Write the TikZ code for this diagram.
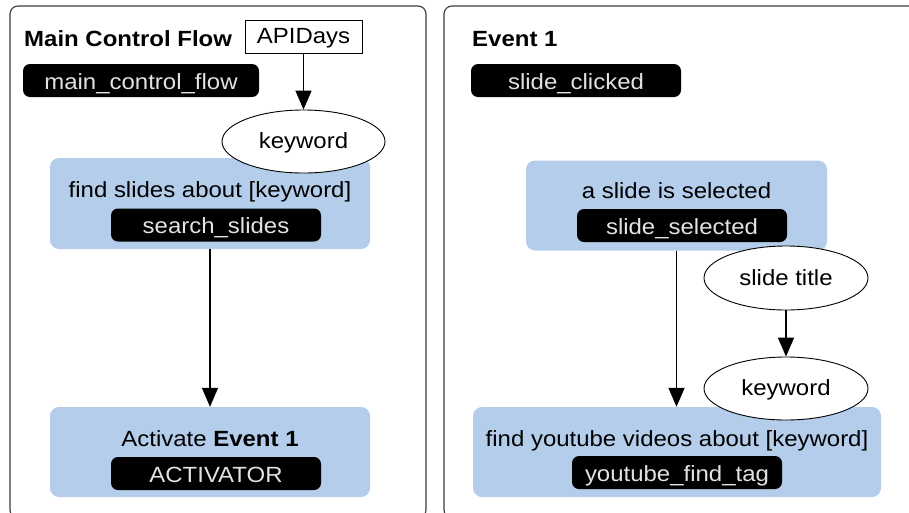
\documentclass[tikz,border=0pt]{standalone}
\usepackage{fontspec}
\setmainfont{Liberation Sans}[FakeStretch=1.09]
\usetikzlibrary{arrows.meta,shapes.geometric}
\definecolor{boxblue}{HTML}{B3CDEA}
\definecolor{pilltext}{HTML}{E2E2E2}
\definecolor{panelgray}{HTML}{3A3A3A}
\tikzset{
  fs/.style={font=\fontsize{22}{26}\selectfont},
  panel/.style={draw=panelgray,line width=1.1pt,rounded corners=8pt},
  actbox/.style={fill=boxblue,rounded corners=9pt,inner sep=0pt},
  pill/.style={fill=black,text=pilltext,rounded corners=7pt,inner sep=0pt,minimum height=33pt,text height=17pt,text depth=0pt,fs},
  lbl/.style={inner sep=0pt,anchor=base,fs},
  ttl/.style={inner sep=0pt,anchor=base west,font=\fontsize{22}{26}\selectfont\bfseries},
  oval/.style={ellipse,draw=black,fill=white,line width=0.9pt,inner sep=0pt,text height=15pt,text depth=1pt,fs},
  flow/.style={line width=1.5pt,-{Triangle[width=16pt,length=19pt]}},
  databox/.style={draw=black,fill=white,line width=1pt,inner sep=0pt,minimum width=117pt,minimum height=33pt,text height=16pt,text depth=3pt,fs}
}
\begin{document}
\begin{tikzpicture}[x=1pt,y=-1pt]
\useasboundingbox (0,0) rectangle (909,512);
\clip (0,0) rectangle (909,512);
% panels
\draw[panel] (10,6) rectangle (426,518);
\draw[panel] (444,6) rectangle (935,518);
% left panel
\node[ttl] (t1) at (24,46) {Main Control Flow};
\node[databox] (api) at (303.5,36.5) {APIDays};
\node[pill,minimum width=236pt] (mcf) at (141,80.5) {main\_control\_flow};
\node[actbox,minimum width=320pt,minimum height=91pt] (b1) at (210,203.5) {};
\node[lbl] (b1t) at (210,197.5) {find slides about [keyword]};
\node[pill,minimum width=210pt] (ss) at (216,225) {search\_slides};
\node[oval,minimum width=163pt,minimum height=63pt] (kw1) at (303.5,141.5) {keyword};
\node[actbox,minimum width=320pt,minimum height=90pt] (b2) at (210,452) {};
\node[lbl] (b2t) at (210,446.5) {Activate \textbf{Event 1}};
\node[pill,minimum width=210pt] (act) at (216,473.5) {ACTIVATOR};
\draw[flow] (api.south) -- (kw1.north);
\draw[flow] (b1.south) -- (b2.north);
% right panel
\node[ttl] (t2) at (472,46.5) {Event 1};
\node[pill,minimum width=210pt] (sc) at (576,80.5) {slide\_clicked};
\node[actbox,minimum width=301pt,minimum height=90pt] (b3) at (676.5,205.5) {};
\node[lbl] (b3t) at (676.5,198.5) {a slide is selected};
\node[pill,minimum width=210pt] (ssel) at (682,225.5) {slide\_selected};
\node[oval,minimum width=164pt,minimum height=64pt] (st) at (786,278) {slide title};
\node[actbox,minimum width=408pt,minimum height=90pt] (b4) at (677,452) {};
\node[lbl] (b4t) at (677,446.5) {find youtube videos about [keyword]};
\node[pill,minimum width=210pt] (yt) at (677,472.5) {youtube\_find\_tag};
\node[oval,minimum width=164pt,minimum height=63pt] (kw2) at (786,388.5) {keyword};
\draw[flow] (b3.south) -- (b3.south |- b4.north);
\draw[flow] (st.south) -- (kw2.north);
\end{tikzpicture}
\end{document}
